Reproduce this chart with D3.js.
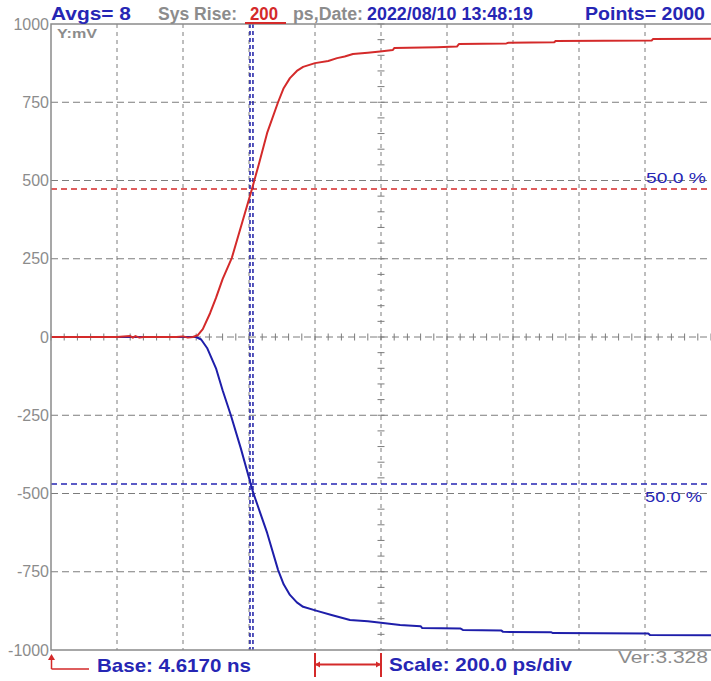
<!DOCTYPE html>
<html>
<head>
<meta charset="utf-8">
<script src="https://cdn.jsdelivr.net/npm/d3@7"></script>
<style>
  body { margin: 0; background: #fff; }
  svg { display: block; }
</style>
</head>
<body>
<svg width="711" height="681"></svg>
<script>
// time in ps after the base (4.6170 ns), 200 ps per division
var xTicks = [0, 200, 400, 600, 800, 1000, 1200, 1400, 1600, 1800, 2000];
var yTicks = [-1000, -750, -500, -250, 0, 250, 500, 750, 1000];

var redTime = [0, 200, 240, 248, 256, 268, 280, 380, 400, 415, 430, 445, 460, 482, 500, 520, 548, 580, 609, 630, 655, 688, 705, 724, 745, 764, 800, 840, 867, 890, 915, 960, 997, 1036, 1040, 1170, 1230, 1236, 1380, 1386, 1525, 1530, 1820, 1824, 2000];
var redMv   = [0, 0, 3, -2, 3, -2, 0, 0, 2, -2, 0, 6, 25, 76, 125, 185, 253, 368, 473, 553, 652, 750, 795, 827, 850, 863, 875, 882, 891, 896, 904, 908, 912, 917, 923, 926, 928, 936, 938, 940, 942, 946, 947, 952, 953];

var blueTime = [0, 440, 455, 473, 500, 520, 545, 575, 612, 635, 655, 688, 705, 724, 745, 764, 806, 850, 906, 960, 1006, 1058, 1120, 1125, 1240, 1248, 1365, 1370, 1515, 1521, 1810, 1815, 2000];
var blueMv   = [0, 0, -8, -35, -100, -170, -250, -355, -495, -565, -626, -744, -790, -824, -848, -862, -875, -888, -904, -908, -914, -920, -924, -930, -931, -936, -938, -942, -943, -946, -947, -952, -953];

var markerTimes = [603, 612];
var redHalf = 473;
var blueHalf = -470;

var BLUE = "#2626b4", GRAY = "#8c8c8c", RED = "#d42a2a";

var svg = d3.select("svg"),
    margin = { top: 24, right: 0, bottom: 31, left: 51 },
    width = +svg.attr("width") - margin.left - margin.right,
    height = +svg.attr("height") - margin.top - margin.bottom,
    g = svg.append("g").attr("transform", "translate(" + margin.left + "," + margin.top + ")");

var x = d3.scaleLinear().domain([0, 2000]).range([0, width]);
var y = d3.scaleLinear().domain([-1000, 1000]).range([height, 0]);

// grid
g.selectAll(".vgrid")
    .data(xTicks.slice(1, -1))
    .enter().append("line")
    .attr("x1", function (d) { return x(d); })
    .attr("x2", function (d) { return x(d); })
    .attr("y1", 0)
    .attr("y2", height)
    .attr("stroke", "#7c7c7c")
    .attr("stroke-dasharray", "4,4");

g.selectAll(".hgrid")
    .data(yTicks.slice(1, -1))
    .enter().append("line")
    .attr("x1", 0)
    .attr("x2", width)
    .attr("y1", function (d) { return y(d); })
    .attr("y2", function (d) { return y(d); })
    .attr("stroke", "#7c7c7c")
    .attr("stroke-dasharray", "7,4");

// minor ticks on the centre axes
g.selectAll(".xminor")
    .data(d3.range(0, 2001, 40))
    .enter().append("line")
    .attr("x1", function (d) { return x(d); })
    .attr("x2", function (d) { return x(d); })
    .attr("y1", y(0) - 3.5)
    .attr("y2", y(0) + 3.5)
    .attr("stroke", "#7c7c7c");

g.selectAll(".yminor")
    .data(d3.range(-1000, 1001, 50))
    .enter().append("line")
    .attr("x1", x(1000) - 3.5)
    .attr("x2", x(1000) + 3.5)
    .attr("y1", function (d) { return y(d); })
    .attr("y2", function (d) { return y(d); })
    .attr("stroke", "#7c7c7c");

// 50% levels and crossing markers
g.append("line")
    .attr("x1", 0).attr("x2", width)
    .attr("y1", y(redHalf)).attr("y2", y(redHalf))
    .attr("stroke", RED).attr("stroke-width", 1.5)
    .attr("stroke-dasharray", "6,4");

g.append("line")
    .attr("x1", 0).attr("x2", width)
    .attr("y1", y(blueHalf)).attr("y2", y(blueHalf))
    .attr("stroke", BLUE).attr("stroke-width", 1.5)
    .attr("stroke-dasharray", "6,4");

g.selectAll(".marker")
    .data(markerTimes)
    .enter().append("line")
    .attr("x1", function (d) { return x(d); })
    .attr("x2", function (d) { return x(d); })
    .attr("y1", 0)
    .attr("y2", height)
    .attr("stroke", "#1c1ca6")
    .attr("stroke-width", 1.5)
    .attr("stroke-dasharray", "4,3");

// traces
var line = d3.line()
    .x(function (d) { return x(d[0]); })
    .y(function (d) { return y(d[1]); });

g.append("path")
    .datum(d3.zip(blueTime, blueMv))
    .attr("fill", "none")
    .attr("stroke", "#1e1eaa")
    .attr("stroke-width", 2)
    .attr("stroke-linejoin", "round")
    .attr("d", line);

g.append("path")
    .datum(d3.zip(redTime, redMv))
    .attr("fill", "none")
    .attr("stroke", RED)
    .attr("stroke-width", 2)
    .attr("stroke-linejoin", "round")
    .attr("d", line);

// frame
g.append("path")
    .attr("d", "M" + width + ",0H0V" + height + "H" + width)
    .attr("fill", "none")
    .attr("stroke", "#8a8a8a")
    .attr("stroke-width", 1.5);

// y axis labels
var yAxis = g.append("g")
    .call(d3.axisLeft(y).tickValues(yTicks).tickSize(0).tickPadding(2)
        .tickFormat(function (d) { return String(d); }))
    .attr("font-family", "'Liberation Sans', Arial, sans-serif")
    .attr("font-size", 16)
    .attr("color", GRAY);
yAxis.select(".domain").remove();

// texts
function label(px, py, txt, color, size, bold, len) {
    var t = svg.append("text")
        .attr("x", px)
        .attr("y", py)
        .attr("fill", color)
        .attr("font-family", "'Liberation Sans', Arial, sans-serif")
        .attr("font-size", size)
        .attr("font-weight", bold ? "bold" : "normal")
        .text(txt);
    if (len) t.attr("textLength", len).attr("lengthAdjust", "spacingAndGlyphs");
    return t;
}

label(51, 19.5, "Avgs= 8", BLUE, 17.5, true, 80);
label(158, 19.5, "Sys Rise:", GRAY, 17.5, true, 79);
label(250, 19.5, "200", RED, 17.5, true, 28);
svg.append("line")
    .attr("x1", 245).attr("x2", 286)
    .attr("y1", 23).attr("y2", 23)
    .attr("stroke", RED).attr("stroke-width", 2);
label(293, 19.5, "ps,Date:", GRAY, 17.5, true, 70);
label(367, 19.5, "2022/08/10 13:48:19", BLUE, 17.5, true, 166);
label(585, 19.5, "Points= 2000", BLUE, 17.5, true, 120);

label(57, 38, "Y:mV", GRAY, 13, true, 40);

label(646, 183, "50.0 %", BLUE, 15, false, 60);
label(645, 502, "50.0 %", BLUE, 15, false, 57);

// base arrow
svg.append("path")
    .attr("d", "M51.5,669V657M51.5,669H89")
    .attr("fill", "none")
    .attr("stroke", RED)
    .attr("stroke-width", 1.5);
svg.append("path")
    .attr("d", "M51.5,654L48,660H55Z")
    .attr("fill", RED);

label(97, 672, "Base: 4.6170 ns", BLUE, 19, true, 154);

// scale bracket, one division wide
var s0 = margin.left + x(xTicks[4]), s1 = margin.left + x(xTicks[5]);
svg.append("path")
    .attr("d", "M" + s0 + ",653V677M" + s1 + ",653V677M" + s0 + ",664.5H" + s1)
    .attr("fill", "none")
    .attr("stroke", RED)
    .attr("stroke-width", 2);
svg.append("path")
    .attr("d", "M" + s0 + ",664.5l5,-3v6Z M" + s1 + ",664.5l-5,-3v6Z")
    .attr("fill", RED);

label(389, 671, "Scale: 200.0 ps/div", BLUE, 19, true, 183);
label(618, 663, "Ver:3.328", GRAY, 17, false, 90);
</script>
</body>
</html>
